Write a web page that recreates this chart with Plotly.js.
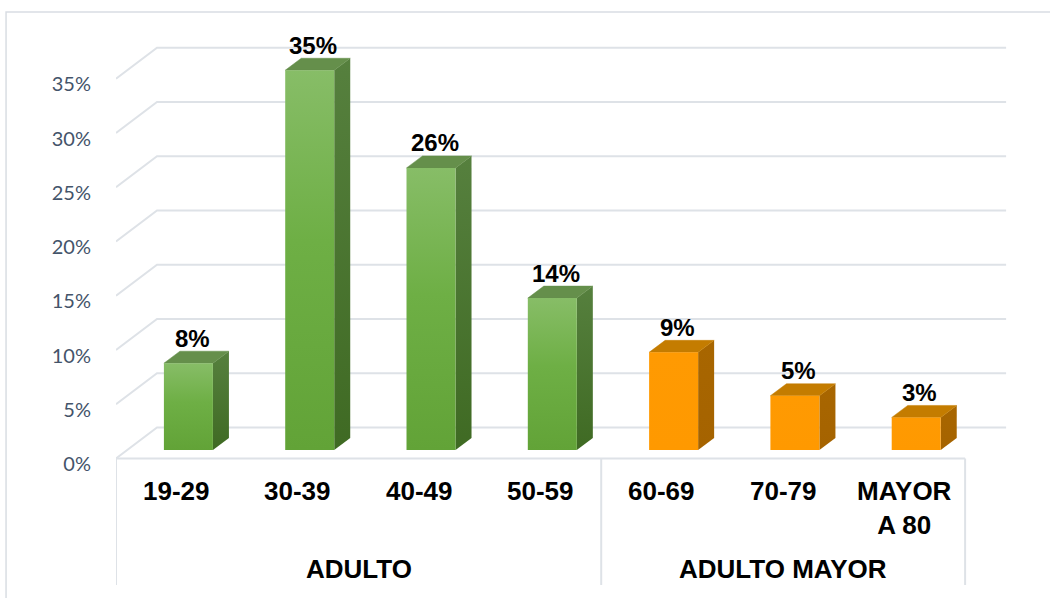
<!DOCTYPE html>
<html>
<head>
<meta charset="utf-8">
<script src="https://cdn.plot.ly/plotly-3.0.1.min.js"></script>
<style>html,body{margin:0;padding:0;background:#fff;}#chart{width:1050px;height:598px;}</style>
</head>
<body>
<div id="chart"></div>
<script>
// ---- data ----
const categories = ['19-29', '30-39', '40-49', '50-59', '60-69', '70-79', 'MAYOR<br>A 80'];
const values = [8, 35, 26, 14, 9, 5, 3];
const groups = ['ADULTO', 'ADULTO MAYOR'];
const groupSizes = [4, 3];
const groupOfCategory = [0, 0, 0, 0, 1, 1, 1];
const yTickValues = [0, 5, 10, 15, 20, 25, 30, 35];
const yTickLabels = ['0%', '5%', '10%', '15%', '20%', '25%', '30%', '35%'];

// ---- styling / projection (not data) ----
const GRID = '#DEE2E7';
const DEPTH_X = 0.338, DEPTH_Y = 2.857;   // wall depth in axis units
const FRONT_Y = 0.507;                    // front plane offset
const BAR_X = 0.097, BAR_Y = 1.29, BAR_W = 0.404, BAR_DX = 0.132, BAR_DY = 1.106;
const palettes = [
  {front: [[0, '#62A337'], [0.55, '#6EAF45'], [1, '#87BD67']], side: [[0, '#3F6A23'], [1, '#56803E']], top: '#658F4B', frontFlat: '#6EAF45', sideFlat: '#4A7530'},
  {front: [[0, '#FF9900'], [1, '#FF9A02']], side: [[0, '#A56300'], [1, '#A86600']], top: '#C47C00', frontFlat: '#FF9900', sideFlat: '#A66500'}
];

const n = categories.length;
const traces = [];
const xLeft = -0.5, xRight = n - 0.5;

// back wall gridlines + left wall diagonals
yTickValues.forEach(v => {
  const yf = v + FRONT_Y, yb = v + FRONT_Y + DEPTH_Y;
  traces.push({type: 'scatter', mode: 'lines', x: [xLeft, xLeft + DEPTH_X, xRight + DEPTH_X], y: [yf, yb, yb],
    line: {color: GRID, width: 2}, hoverinfo: 'skip', showlegend: false});
});
// floor front edge
traces.push({type: 'scatter', mode: 'lines', x: [xLeft, xRight], y: [FRONT_Y, FRONT_Y],
  line: {color: GRID, width: 2}, hoverinfo: 'skip', showlegend: false});

// 3D bars
values.forEach((v, i) => {
  const p = palettes[groupOfCategory[i]];
  const x0 = i + BAR_X - BAR_W / 2, x1 = x0 + BAR_W;
  const yb = BAR_Y, yt = BAR_Y + v;
  // side face
  traces.push({type: 'scatter', mode: 'lines', fill: 'toself',
    x: [x1, x1 + BAR_DX, x1 + BAR_DX, x1, x1], y: [yb, yb + BAR_DY, yt + BAR_DY, yt, yb],
    fillcolor: p.sideFlat, fillgradient: {type: 'vertical', colorscale: p.side},
    line: {width: 0, color: p.sideFlat}, hoverinfo: 'skip', showlegend: false});
  // top face
  traces.push({type: 'scatter', mode: 'lines', fill: 'toself',
    x: [x0, x1, x1 + BAR_DX, x0 + BAR_DX, x0], y: [yt, yt, yt + BAR_DY, yt + BAR_DY, yt],
    fillcolor: p.top, line: {width: 0.5, color: p.top}, hoverinfo: 'skip', showlegend: false});
  // front face
  traces.push({type: 'scatter', mode: 'lines', fill: 'toself',
    x: [x0, x1, x1, x0, x0], y: [yb, yb, yt, yt, yb],
    fillcolor: p.frontFlat, fillgradient: {type: 'vertical', colorscale: p.front},
    line: {width: 0, color: p.frontFlat}, name: categories[i], showlegend: false});
});

const annotations = [];
// data labels
values.forEach((v, i) => {
  annotations.push({x: i + BAR_X + 0.03, y: BAR_Y + v + BAR_DY, xref: 'x', yref: 'y',
    text: v + '%', showarrow: false, yanchor: 'middle', yshift: 13,
    font: {family: 'Arial, Liberation Sans, sans-serif', size: 24, color: '#000', weight: 'bold'}});
});
// category labels
categories.forEach((c, i) => {
  annotations.push({x: i, y: -0.92, xref: 'x', yref: 'y', text: '<b>' + c + '</b>', showarrow: false,
    yanchor: 'top', xanchor: 'center',
    font: {family: 'Arial, Liberation Sans, sans-serif', size: 26, color: '#000'}});
});
// group labels
let start = 0;
const shapes = [];
groups.forEach((g, k) => {
  const mid = start + (groupSizes[k] - 1) / 2;
  annotations.push({x: mid, y: -9.68, xref: 'x', yref: 'y', text: '<b>' + g + '</b>', showarrow: false,
    yanchor: 'middle', font: {family: 'Arial, Liberation Sans, sans-serif', size: 26, color: '#000'}});
  start += groupSizes[k];
});
// category axis separators
const seps = [xLeft];
let acc = -0.5;
groupSizes.forEach(s => { acc += s; seps.push(acc); });
seps.forEach(sx => {
  shapes.push({type: 'line', xref: 'x', yref: 'y', x0: sx, x1: sx, y0: FRONT_Y, y1: -11.15,
    line: {color: GRID, width: 2}});
});
// chart frame (left and top border)
shapes.push({type: 'path', xref: 'paper', yref: 'paper',
  path: 'M -0.1190 -0.02 L -0.1190 1.0140 L 1.02 1.0140', line: {color: '#D9DDE3', width: 1.5}});

const layout = {
  width: 1050, height: 598,
  margin: {l: 116, r: 10, t: 20, b: 8},
  paper_bgcolor: '#ffffff', plot_bgcolor: 'rgba(0,0,0,0)',
  showlegend: false,
  xaxis: {range: [-0.5, -0.5 + 924 / 121.3], visible: false, fixedrange: true},
  yaxis: {range: [-11.613, 40.922], tickvals: yTickValues, ticktext: yTickLabels,
    showgrid: false, zeroline: false, showline: false,
    ticks: 'outside', ticklen: 20, tickcolor: 'rgba(0,0,0,0)',
    tickfont: {family: 'Lato, Open Sans, sans-serif', size: 20, color: '#44546A'}, fixedrange: true},
  annotations: annotations,
  shapes: shapes
};

Plotly.newPlot('chart', traces, layout, {staticPlot: true, displayModeBar: false});
</script>
</body>
</html>
